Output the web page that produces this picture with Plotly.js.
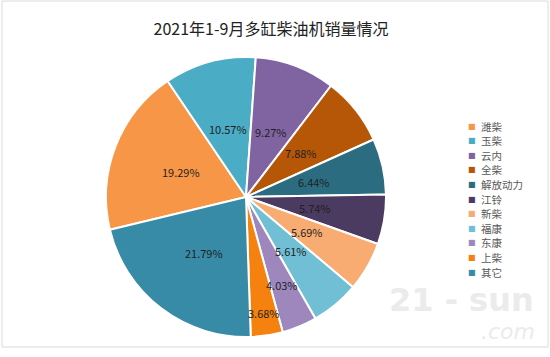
<!DOCTYPE html>
<html>
<head>
<meta charset="utf-8">
<script src="https://cdn.plot.ly/plotly-3.0.1.min.js"></script>
<style>html,body{margin:0;padding:0;background:#fff;}#chart{width:550px;height:357px;}</style>
</head>
<body>
<div id="chart"></div>
<script>
const titleText = '2021年1-9月多缸柴油机销量情况';
const categories = ['潍柴','玉柴','云内','全柴','解放动力','江铃','新柴','福康','东康','上柴','其它'];
const shares = [19.29, 10.57, 9.27, 7.88, 6.44, 5.74, 5.69, 5.61, 4.03, 3.68, 21.79];
const colors = ['#F79646','#4BACC6','#8064A2','#B65708','#2B6C80','#4B3B61','#F9AC72','#71BFD5','#9D87BD','#F5820F','#388BA6'];

const FONT = '"Noto Sans CJK SC", "Microsoft YaHei", sans-serif';
const W = 550, H = 357;
// pie geometry (pixels)
const CX = 246, CY = 197, R = 140;
const ROTATION = -103.5;

const trace = {
  type: 'pie',
  labels: categories,
  values: shares,
  sort: false,
  direction: 'clockwise',
  rotation: ROTATION,
  marker: {colors: colors, line: {color: '#ffffff', width: 2}},
  textinfo: 'none',
  hoverinfo: 'label+value',
  domain: {x: [(CX - R) / W, (CX + R) / W], y: [1 - (CY + R) / H, 1 - (CY - R) / H]},
  showlegend: false
};

// percentage labels placed on each slice's bisector (computed from the values)
const total = shares.reduce((a, b) => a + b, 0);
let cum = 0;
const labelAnns = shares.map((v) => {
  const mid = ROTATION + (cum + v / 2) / total * 360;
  cum += v;
  const a = mid * Math.PI / 180;
  // narrow slices push their label outward
  const frac = v >= 4.5 ? 0.5 : Math.min(0.84, 0.68 + (4.03 - v) * 0.46);
  const px = CX + frac * R * Math.sin(a);
  const py = CY - frac * R * Math.cos(a);
  return {xref: 'paper', yref: 'paper', x: px / W, y: 1 - py / H,
          xanchor: 'center', yanchor: 'middle', showarrow: false,
          text: v.toFixed(2) + '%',
          font: {family: FONT, size: 11, color: '#1f1f1f'}};
});

// legend entries
const LEG_X = 472, LEG_Y0 = 126, LEG_DY = 14.6;
const legendAnns = [];
categories.forEach((c, i) => {
  const py = LEG_Y0 + i * LEG_DY;
  legendAnns.push({xref: 'paper', yref: 'paper', x: LEG_X / W, y: 1 - py / H,
    xanchor: 'center', yanchor: 'middle', showarrow: false, text: '■',
    font: {family: 'DejaVu Sans', size: 8, color: colors[i]}});
  legendAnns.push({xref: 'paper', yref: 'paper', x: (LEG_X + 7) / W, y: 1 - py / H,
    xanchor: 'left', yanchor: 'middle', showarrow: false, text: c,
    font: {family: FONT, size: 10.5, color: '#595959'}});
});

const layout = {
  width: W, height: H,
  margin: {l: 0, r: 0, t: 0, b: 0},
  paper_bgcolor: '#ffffff',
  title: {text: titleText, x: 271/W, xanchor: 'center', y: 1 - 29/H, yanchor: 'middle',
          font: {family: FONT, size: 16, color: '#222222'}},
  showlegend: false,
  shapes: [
    {type: 'rect', xref: 'paper', yref: 'paper', x0: 2/W, x1: 548/W, y0: 1 - 347/H, y1: 1 - 1/H,
     line: {color: '#DADADA', width: 1}}
  ],
  annotations: [
    {xref: 'paper', yref: 'paper', x: 461/W, y: 1 - 300/H, xanchor: 'center', yanchor: 'middle',
     showarrow: false, text: '<b>21 - sun</b>',
     font: {family: 'DejaVu Sans', size: 32, color: '#EBEBEB'}},
    {xref: 'paper', yref: 'paper', x: 508/W, y: 1 - 331/H, xanchor: 'center', yanchor: 'middle',
     showarrow: false, text: '<i>.com</i>',
     font: {family: 'DejaVu Sans', size: 22, color: '#EBEBEB'}}
  ].concat(labelAnns, legendAnns)
};

Plotly.newPlot('chart', [trace], layout, {displayModeBar: false, staticPlot: true});
</script>
</body>
</html>
